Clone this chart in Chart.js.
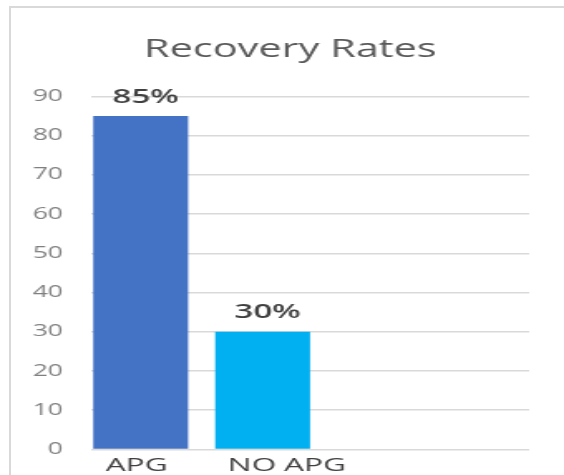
<!DOCTYPE html>
<html>
<head>
<meta charset="utf-8">
<script src="https://cdn.jsdelivr.net/npm/chart.js@4/dist/chart.umd.min.js"></script>
<style>
  html, body { margin: 0; padding: 0; background: #ffffff; overflow: hidden; }
  #wrap { position: relative; width: 564px; height: 475px; overflow: hidden; }
  #frame { position: absolute; left: 9px; top: 6px; width: 700px; height: 700px;
           border-top: 2px solid #d9d9d9; border-left: 2px solid #d9d9d9; }
  #c { position: absolute; left: 0; top: 1px; width: 564px; height: 475px; display: block; }
</style>
</head>
<body>
<div id="wrap">
  <div id="frame"></div>
  <canvas id="c" width="340" height="475" style="width:564px;height:475px"></canvas>
</div>
<script>
const categories = ['APG', 'NO APG'];
const recoveryRates = [85, 30];
const yTickValues = [0, 10, 20, 30, 40, 50, 60, 70, 80, 90];
const barColors = ['#4472C4', '#00B0F0'];

const FONT = '"Open Sans", "Noto Sans", sans-serif';

const valueLabels = {
  id: 'valueLabels',
  afterDatasetsDraw(chart) {
    const ctx = chart.ctx;
    const meta = chart.getDatasetMeta(0);
    ctx.save();
    ctx.font = '600 20px ' + FONT;
    ctx.fillStyle = '#404040';
    ctx.textAlign = 'center';
    ctx.textBaseline = 'middle';
    meta.data.forEach((el, i) => {
      ctx.fillText(recoveryRates[i] + '%', el.x + 3, el.y - 19);
    });
    ctx.restore();
  }
};

// let the y tick labels use the space left of the axis box (not clipped)
const widenYLabelArea = {
  id: 'widenYLabelArea',
  afterLayout(chart) { chart.scales.y.left = 0; }
};

new Chart(document.getElementById('c'), {
  type: 'bar',
  data: {
    datasets: [{
      data: categories.map((c, i) => ({ x: i, y: recoveryRates[i] })),
      backgroundColor: barColors,
      borderWidth: 0,
      categoryPercentage: 1,
      barPercentage: 0.778
    }]
  },
  options: {
    responsive: false,
    devicePixelRatio: 1,
    animation: false,
    layout: { padding: { left: 31, right: 21, top: 0, bottom: 0 } },
    plugins: {
      legend: { display: false },
      tooltip: { enabled: false },
      title: {
        display: true,
        text: 'Recovery Rates',
        color: '#595959',
        font: { family: FONT, size: 25, weight: 'normal' },
        padding: { top: 34, bottom: 31.5 }
      }
    },
    scales: {
      x: {
        type: 'linear',
        offset: false,
        min: -0.405,
        max: 3.185,
        grid: { display: false, offset: false },
        border: { display: false },
        afterBuildTicks: (scale) => { scale.ticks = categories.map((c, i) => ({ value: i })); },
        afterFit: (scale) => { scale.height = 23.4; },
        ticks: {
          align: 'start',
          labelOffset: -21,
          padding: -3.6,
          color: '#404040',
          font: { family: FONT, size: 19 },
          maxRotation: 0,
          autoSkip: false,
          callback: (v) => categories[v] !== undefined ? categories[v] : ''
        }
      },
      y: {
        min: 0,
        max: 90,
        afterBuildTicks: (scale) => { scale.ticks = yTickValues.map(v => ({ value: v })); },
        afterFit: (scale) => { scale.width = 24; },
        grid: { color: '#d9d9d9', lineWidth: 1.5, drawTicks: false },
        border: { display: false },
        ticks: {
          padding: 17,
          crossAlign: 'near',
          color: '#808080',
          font: { family: FONT, size: 16 }
        }
      }
    }
  },
  plugins: [valueLabels, widenYLabelArea]
});
</script>
</body>
</html>
